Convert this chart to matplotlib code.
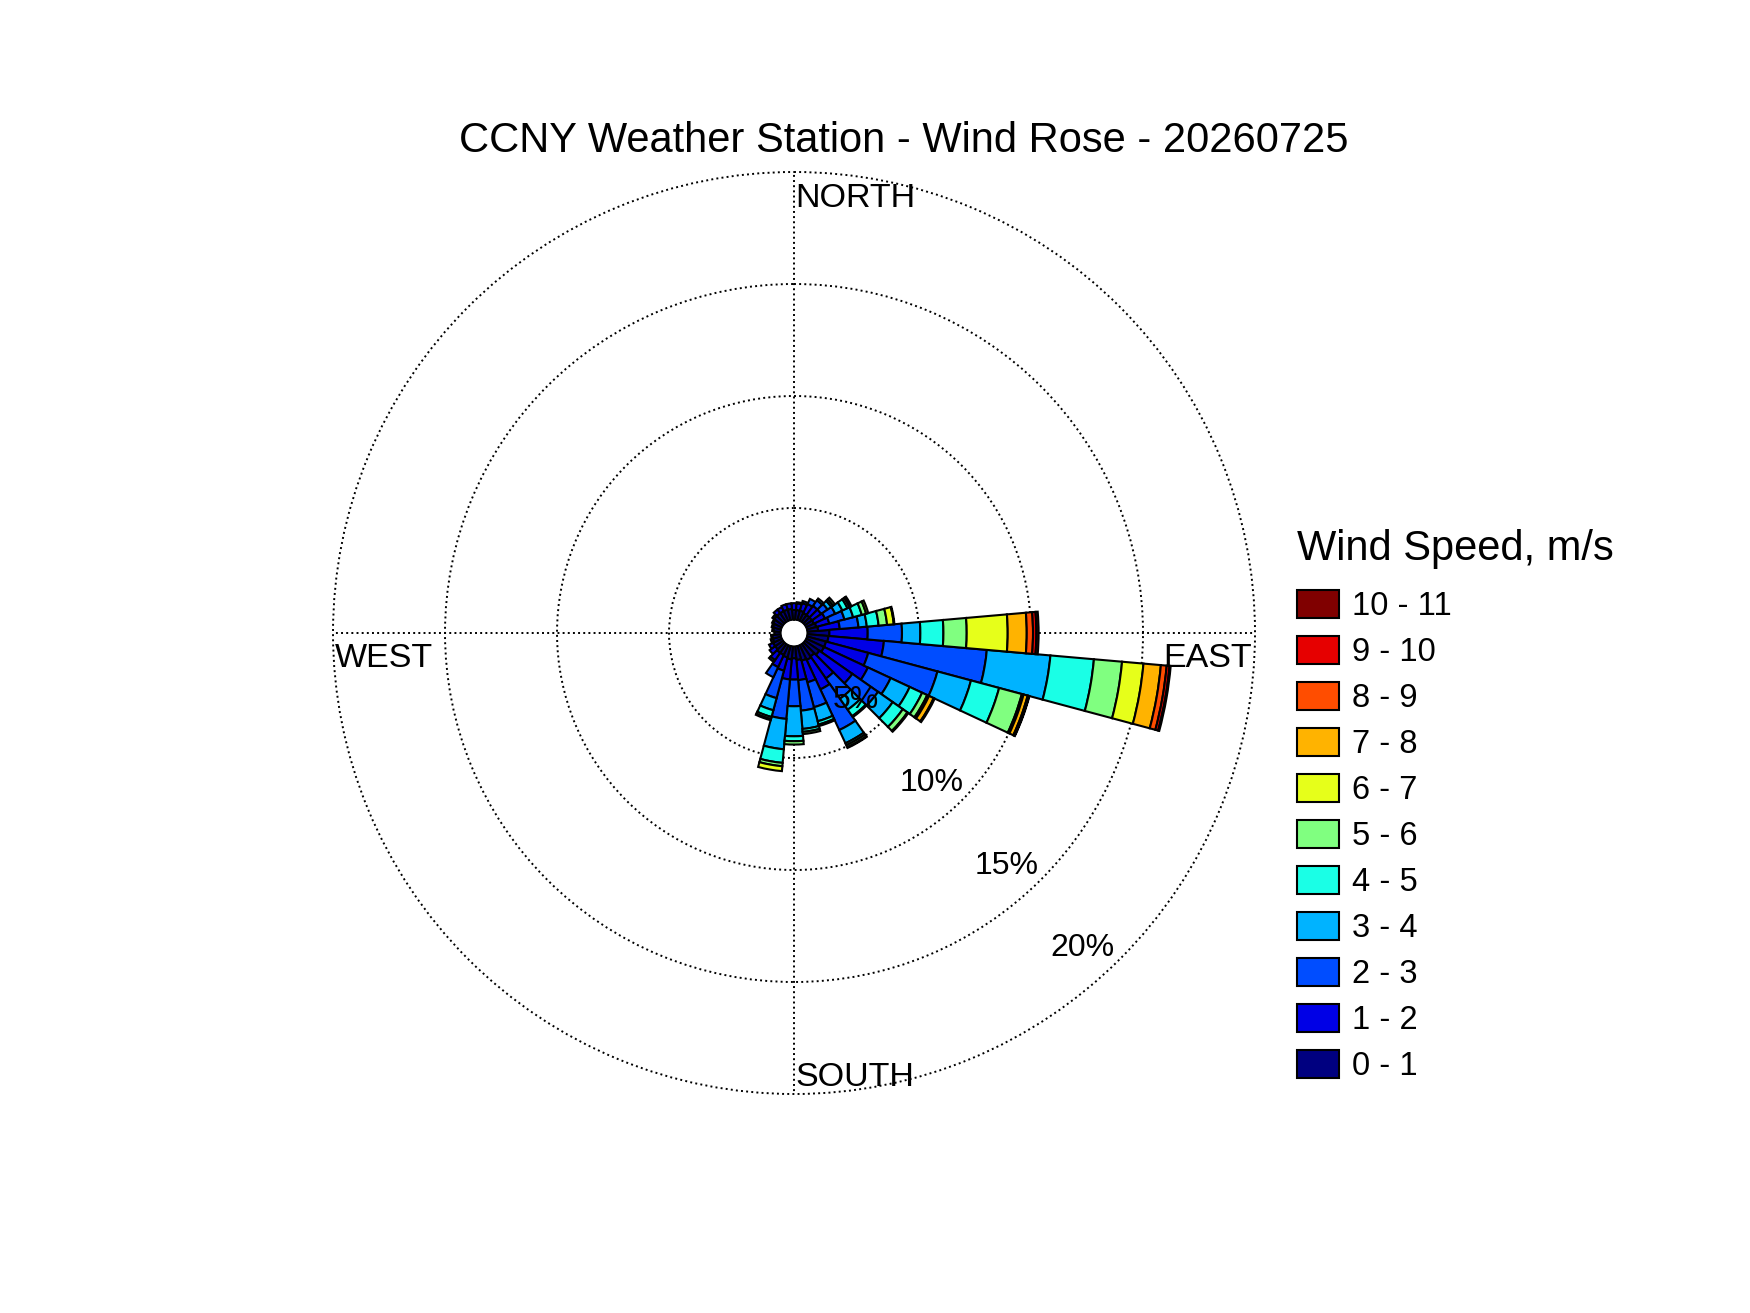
import numpy as np
import matplotlib
matplotlib.use('Agg')
import matplotlib.pyplot as plt
from matplotlib.patches import Patch

plt.rcParams['font.family'] = ['Liberation Sans', 'DejaVu Sans']

# ---------------- data ----------------
title = 'CCNY Weather Station - Wind Rose - 20260725'
directions = list(range(0, 360, 10))          # bin centres, degrees (compass)
speed_labels = ['0 - 1', '1 - 2', '2 - 3', '3 - 4', '4 - 5', '5 - 6',
                '6 - 7', '7 - 8', '8 - 9', '9 - 10', '10 - 11']
legend_title = 'Wind Speed, m/s'

# frequency (%) per direction bin, one list per speed class
s0 = [0.45, 0.45, 0.45, 0.40, 0.40, 0.40, 0.40, 0.45, 0.50, 1.00, 0.96, 0.90,
      0.90, 0.80, 0.70, 0.75, 0.70, 0.63, 0.55, 0.60, 0.55, 0.50, 0.50, 0.45,
      0.45, 0.40, 0.40, 0.30, 0.35, 0.40, 0.45, 0.50, 0.50, 0.50, 0.50, 0.50]
s1 = [0.30, 0.30, 0.35, 0.45, 0.50, 0.50, 0.55, 0.60, 0.97, 1.71, 2.49, 1.95,
      2.16, 1.80, 1.20, 1.45, 1.00, 0.90, 0.95, 0.90, 0.61, 0.60, 0.40, 0.30,
      0.20, 0.10, 0.05, 0.00, 0.05, 0.05, 0.05, 0.10, 0.20, 0.20, 0.25, 0.25]
s2 = [0.00, 0.05, 0.10, 0.25, 0.30, 0.35, 0.50, 0.70, 0.84, 1.53, 4.61, 3.20,
      1.12, 1.40, 1.10, 2.00, 1.15, 1.37, 1.19, 1.77, 1.27, 0.50, 0.10, 0.00,
      0.00, 0.00, 0.00, 0.00, 0.00, 0.00, 0.00, 0.00, 0.00, 0.00, 0.00, 0.00]
s3 = [0.00, 0.00, 0.00, 0.00, 0.10, 0.20, 0.35, 0.40, 0.37, 0.82, 2.85, 1.55,
      0.94, 0.80, 0.60, 0.65, 0.65, 0.82, 1.34, 1.36, 0.56, 0.00, 0.00, 0.00,
      0.00, 0.00, 0.00, 0.00, 0.00, 0.00, 0.00, 0.00, 0.00, 0.00, 0.00, 0.00]
s4 = [0.00, 0.00, 0.00, 0.00, 0.00, 0.10, 0.25, 0.40, 0.53, 1.03, 1.95, 1.30,
      0.61, 0.55, 0.35, 0.10, 0.15, 0.13, 0.22, 0.61, 0.31, 0.00, 0.00, 0.00,
      0.00, 0.00, 0.00, 0.00, 0.00, 0.00, 0.00, 0.00, 0.00, 0.00, 0.00, 0.00]
s5 = [0.00, 0.00, 0.00, 0.00, 0.00, 0.10, 0.10, 0.20, 0.38, 1.04, 1.26, 1.05,
      0.25, 0.25, 0.05, 0.10, 0.07, 0.10, 0.15, 0.15, 0.10, 0.00, 0.00, 0.00,
      0.00, 0.00, 0.00, 0.00, 0.00, 0.00, 0.00, 0.00, 0.00, 0.00, 0.00, 0.00]
s6 = [0.00, 0.00, 0.00, 0.00, 0.00, 0.00, 0.05, 0.10, 0.30, 1.83, 0.96, 0.08,
      0.09, 0.05, 0.00, 0.03, 0.00, 0.00, 0.00, 0.22, 0.05, 0.00, 0.00, 0.00,
      0.00, 0.00, 0.00, 0.00, 0.00, 0.00, 0.00, 0.00, 0.00, 0.00, 0.00, 0.00]
s7 = [0.00, 0.00, 0.00, 0.00, 0.00, 0.00, 0.05, 0.00, 0.03, 0.85, 0.78, 0.19,
      0.23, 0.00, 0.00, 0.00, 0.00, 0.00, 0.00, 0.00, 0.00, 0.00, 0.00, 0.00,
      0.00, 0.00, 0.00, 0.00, 0.00, 0.00, 0.00, 0.00, 0.00, 0.00, 0.00, 0.00]
s8 = [0.00, 0.00, 0.00, 0.00, 0.00, 0.00, 0.00, 0.00, 0.00, 0.28, 0.26, 0.06,
      0.05, 0.00, 0.00, 0.00, 0.00, 0.00, 0.00, 0.00, 0.00, 0.00, 0.00, 0.00,
      0.00, 0.00, 0.00, 0.00, 0.00, 0.00, 0.00, 0.00, 0.00, 0.00, 0.00, 0.00]
s9 = [0.00, 0.00, 0.00, 0.00, 0.00, 0.00, 0.00, 0.00, 0.00, 0.15, 0.13, 0.02,
      0.00, 0.00, 0.00, 0.00, 0.00, 0.00, 0.00, 0.00, 0.00, 0.00, 0.00, 0.00,
      0.00, 0.00, 0.00, 0.00, 0.00, 0.00, 0.00, 0.00, 0.00, 0.00, 0.00, 0.00]
s10 = [0.00, 0.00, 0.00, 0.00, 0.00, 0.00, 0.00, 0.00, 0.00, 0.10, 0.05, 0.00,
       0.00, 0.00, 0.00, 0.00, 0.00, 0.00, 0.00, 0.00, 0.00, 0.00, 0.00, 0.00,
       0.00, 0.00, 0.00, 0.00, 0.00, 0.00, 0.00, 0.00, 0.00, 0.00, 0.00, 0.00]
speed_freqs = [s0, s1, s2, s3, s4, s5, s6, s7, s8, s9, s10]

ring_values = [5, 10, 15, 20]
ring_labels = ['5%', '10%', '15%', '20%']
compass_labels = ['NORTH', 'EAST', 'SOUTH', 'WEST']

# ---------------- style ----------------
colors = ['#000080', '#0000E6', '#004DFF', '#00B3FF', '#1AFFE6', '#80FF80',
          '#E6FF1A', '#FFB300', '#FF4D00', '#E60000', '#800000']

fig = plt.figure(figsize=(17.5, 13.13), dpi=100)
ax = fig.add_axes([0.19029, 0.16679, 0.52686, 0.70221], projection='polar')
ax.set_theta_zero_location('N')
ax.set_theta_direction(-1)

theta = np.deg2rad(directions)
width = np.deg2rad(10)
bottom = np.zeros(len(directions))
for vals, c in zip(speed_freqs, colors):
    vals = np.asarray(vals, dtype=float)
    m = vals > 0
    ax.bar(theta[m], vals[m], width=width, bottom=bottom[m], color=c,
           edgecolor='black', linewidth=1.5, align='center', zorder=3)
    bottom += vals

ax.set_ylim(0, 20)
ax.set_rorigin(-0.58)
ax.set_rticks(ring_values)
ax.set_yticklabels([])
ax.set_xticks(np.deg2rad([0, 90, 180, 270]))
ax.set_xticklabels([])
ax.set_axisbelow(True)
ax.grid(True, color='black', linestyle=':', linewidth=1.4)
for gl in ax.yaxis.get_gridlines():
    gl.set_clip_on(False)
ax.spines['polar'].set_visible(False)

# percent labels
for v, lab in zip(ring_values, ring_labels):
    ax.text(np.deg2rad(137.5), v - 1.5, lab, ha='center', va='center',
            fontsize=23, zorder=6)

# compass labels
lab_fs = 24.5
ax.annotate(compass_labels[0], xy=(0, 20), xytext=(0.7, -19),
            textcoords='offset points', ha='left', va='center',
            fontsize=lab_fs, annotation_clip=False)
ax.annotate(compass_labels[1], xy=(np.pi / 2, 20), xytext=(-2.5, -18),
            textcoords='offset points', ha='right', va='center',
            fontsize=lab_fs, annotation_clip=False)
ax.annotate(compass_labels[2], xy=(np.pi, 20), xytext=(0.7, 12),
            textcoords='offset points', ha='left', va='center',
            fontsize=lab_fs, annotation_clip=False)
ax.annotate(compass_labels[3], xy=(3 * np.pi / 2, 20), xytext=(1, -18),
            textcoords='offset points', ha='left', va='center',
            fontsize=lab_fs, annotation_clip=False)

fig.text(904 / 1750, 1 - 141 / 1313, title, ha='center', va='center',
         fontsize=30)

handles = [Patch(facecolor=c, edgecolor='black', linewidth=1.5)
           for c in colors[::-1]]
leg = fig.legend(handles, speed_labels[::-1], loc='upper left',
                 bbox_to_anchor=(1297 / 1750, 1 - 529 / 1313), frameon=False,
                 fontsize=23.5, title=legend_title, title_fontsize=30,
                 alignment='left', handlelength=1.3, handleheight=0.95,
                 handletextpad=0.38, labelspacing=0.42, borderpad=0,
                 borderaxespad=0)
leg._legend_box.sep = 15

fig.savefig('out.png', dpi=100, facecolor='white')
